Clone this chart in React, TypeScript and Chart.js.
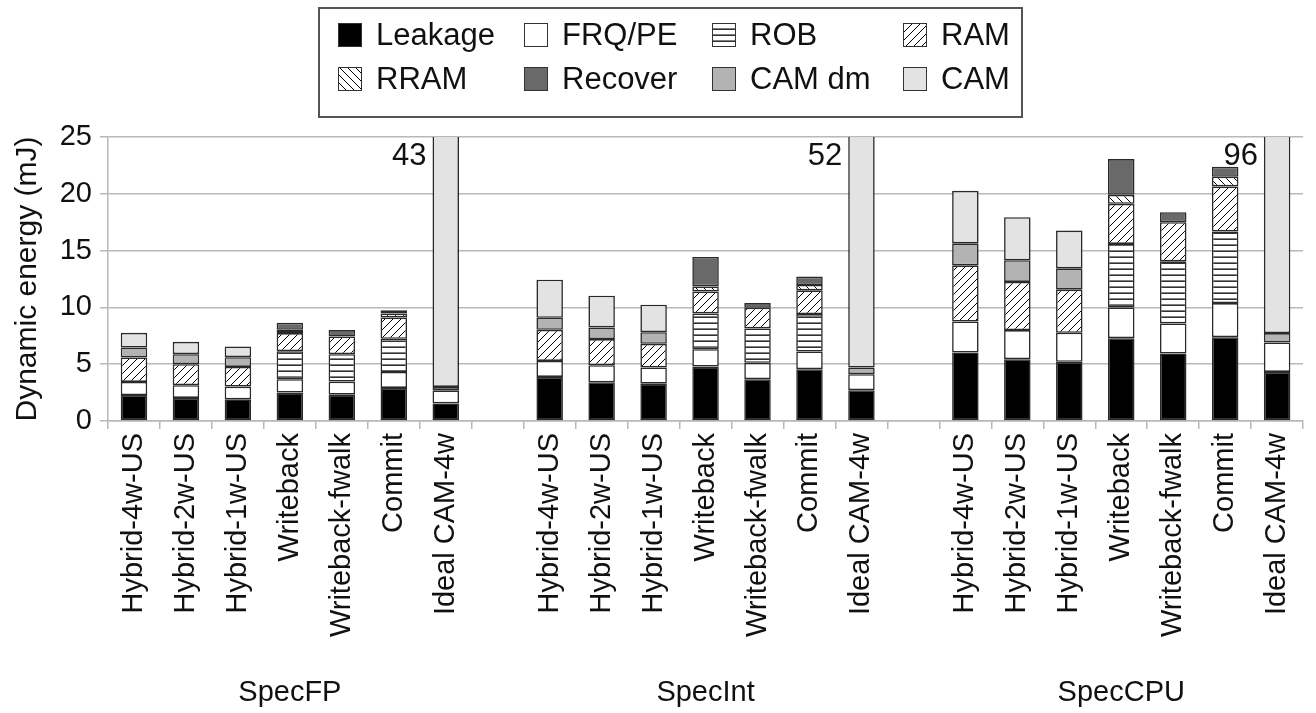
import React, { useEffect, useRef } from 'react';
import { Chart, registerables } from 'chart.js';

Chart.register(...registerables);

// Benchmark suites and the processor configurations evaluated in each
const GROUPS = ['SpecFP', 'SpecInt', 'SpecCPU'];
const CONFIGS = ['Hybrid-4w-US', 'Hybrid-2w-US', 'Hybrid-1w-US', 'Writeback', 'Writeback-fwalk', 'Commit', 'Ideal CAM-4w'];

// Dynamic energy components (mJ), 7 configs per suite: SpecFP, SpecInt, SpecCPU
const leakage = [2.29, 2.03, 1.91, 2.5, 2.32, 2.91, 1.55, 3.88, 3.41, 3.29, 4.79, 3.68, 4.56, 2.71, 6.03, 5.44, 5.21, 7.29, 5.94, 7.38, 4.32];
const frqPe = [1.15, 1.12, 1.12, 1.18, 1.15, 1.41, 1.15, 1.41, 1.5, 1.42, 1.53, 1.44, 1.56, 1.41, 2.73, 2.56, 2.56, 2.71, 2.65, 3.0, 2.59];
const rob = [0, 0, 0, 2.47, 2.41, 2.92, 0, 0, 0, 0, 3.15, 3.03, 3.29, 0, 0, 0, 0, 5.59, 5.47, 6.3, 0];
const ram = [2.15, 1.85, 1.73, 1.59, 1.56, 1.88, 0, 2.74, 2.3, 2.08, 1.94, 1.82, 2.09, 0, 4.94, 4.24, 3.79, 3.53, 3.44, 3.97, 0];
const rram = [0, 0, 0, 0.29, 0, 0.35, 0, 0, 0, 0, 0.44, 0, 0.47, 0, 0, 0, 0, 0.79, 0, 0.85, 0];
const recover = [0, 0, 0, 0.62, 0.56, 0.29, 0, 0, 0, 0, 2.59, 0.41, 0.74, 0, 0, 0, 0, 3.15, 0.88, 0.88, 0];
const camDm = [0.88, 0.88, 0.86, 0, 0, 0, 0.3, 1.06, 1.03, 1.03, 0, 0, 0, 0.59, 1.94, 1.91, 1.88, 0, 0, 0, 0.83];
const cam = [1.29, 1.09, 0.94, 0, 0, 0, 40.0, 3.35, 2.79, 2.42, 0, 0, 0, 47.29, 4.62, 3.79, 3.32, 0, 0, 0, 88.26];

const Y_TICKS = [0, 5, 10, 15, 20, 25];
const Y_MAX = 25;

const FONT = '"Liberation Sans", Arial, sans-serif';
const GRID = '#b8b8b8';
const INK = '#111111';

// Category labels with an empty slot between suites
const labels: string[] = [];
GROUPS.forEach((_, g) => {
  CONFIGS.forEach((c) => labels.push(c));
  if (g < GROUPS.length - 1) labels.push('');
});

// Spread 21 values over the 23 slots, leaving the separator slots and zero segments empty
function withGaps(values: number[]): (number | null)[] {
  const out: (number | null)[] = [];
  values.forEach((v, i) => {
    out.push(v === 0 ? null : v);
    if (i % CONFIGS.length === CONFIGS.length - 1 && i < values.length - 1) out.push(null);
  });
  return out;
}

function makePattern(kind: 'horiz' | 'fwd' | 'back'): CanvasPattern {
  const c = document.createElement('canvas');
  const size = kind === 'horiz' ? 6 : 8;
  c.width = size;
  c.height = size;
  const ctx = c.getContext('2d')!;
  ctx.fillStyle = '#ffffff';
  ctx.fillRect(0, 0, size, size);
  ctx.strokeStyle = '#000000';
  ctx.fillStyle = '#000000';
  if (kind === 'horiz') {
    ctx.fillRect(0, 4.5, size, 1.3);
  } else {
    ctx.lineWidth = 1;
    ctx.beginPath();
    if (kind === 'fwd') {
      ctx.moveTo(0, size); ctx.lineTo(size, 0);
      ctx.moveTo(-1, 1); ctx.lineTo(1, -1);
      ctx.moveTo(size - 1, size + 1); ctx.lineTo(size + 1, size - 1);
    } else {
      ctx.moveTo(0, 0); ctx.lineTo(size, size);
      ctx.moveTo(-1, size - 1); ctx.lineTo(1, size + 1);
      ctx.moveTo(size - 1, -1); ctx.lineTo(size + 1, 1);
    }
    ctx.stroke();
  }
  return ctx.createPattern(c, 'repeat')!;
}

export default function App() {
  const canvasRef = useRef<HTMLCanvasElement>(null);

  useEffect(() => {
    document.body.style.margin = '0';
    const canvas = canvasRef.current;
    if (!canvas) return;

    const series = [
      { label: 'Leakage', data: leakage, fill: '#000000' as string | CanvasPattern },
      { label: 'FRQ/PE', data: frqPe, fill: '#ffffff' },
      { label: 'ROB', data: rob, fill: makePattern('horiz') },
      { label: 'RAM', data: ram, fill: makePattern('fwd') },
      { label: 'RRAM', data: rram, fill: makePattern('back') },
      { label: 'Recover', data: recover, fill: '#696969' },
      { label: 'CAM dm', data: camDm, fill: '#b3b3b3' },
      { label: 'CAM', data: cam, fill: '#e3e3e3' },
    ];

    const datasets = series.map((s) => ({
      label: s.label,
      data: withGaps(s.data),
      backgroundColor: s.fill,
      borderColor: '#2a2a2a',
      borderWidth: 1.6,
      borderSkipped: false as const,
      categoryPercentage: 1,
      barPercentage: 0.51,
      stack: 'energy',
    }));

    const decorations = {
      id: 'decorations',
      afterDraw(chart: Chart) {
        const { ctx, chartArea } = chart;
        const xScale = chart.scales.x;
        ctx.save();

        // Legend box
        ctx.strokeStyle = '#555555';
        ctx.lineWidth = 2;
        ctx.strokeRect(319, 8, 703, 109);
        const cols = [338, 524, 712, 903];
        const rows = [23, 67];
        ctx.font = `31px ${FONT}`;
        ctx.textBaseline = 'middle';
        ctx.textAlign = 'left';
        series.forEach((s, i) => {
          const x = cols[i % 4];
          const y = rows[Math.floor(i / 4)];
          ctx.fillStyle = s.fill;
          ctx.fillRect(x, y, 24, 24);
          ctx.strokeStyle = '#333333';
          ctx.lineWidth = 1;
          ctx.strokeRect(x + 0.5, y + 0.5, 23, 23);
          ctx.fillStyle = INK;
          ctx.fillText(s.label, x + 38, y + 13);
        });

        // Totals for bars that run past the top of the axis
        const meta = chart.getDatasetMeta(0);
        ctx.font = `31px ${FONT}`;
        ctx.textAlign = 'right';
        ctx.fillStyle = INK;
        labels.forEach((_, i) => {
          let total = 0;
          chart.data.datasets.forEach((d) => {
            const v = d.data[i] as number | null;
            if (v) total += v;
          });
          if (total > Y_MAX) {
            const bar = meta.data[i] as any;
            const left = bar.x - bar.width / 2;
            ctx.fillText(String(Math.round(total)), left - 6, chartArea.top + 19);
          }
        });

        // Suite names under each block of configurations
        ctx.textAlign = 'center';
        ctx.font = `29px ${FONT}`;
        GROUPS.forEach((g, gi) => {
          const mid = gi * (CONFIGS.length + 1) + 3;
          ctx.fillText(g, xScale.getPixelForValue(mid), 693);
        });

        // Vertical axis title
        ctx.translate(28, (chartArea.top + chartArea.bottom) / 2);
        ctx.rotate(-Math.PI / 2);
        ctx.font = `30px ${FONT}`;
        ctx.fillText('Dynamic energy (mJ)', 0, 0);
        ctx.restore();
      },
    };

    const chart = new Chart(canvas, {
      type: 'bar',
      data: { labels, datasets },
      options: {
        responsive: false,
        animation: false,
        layout: { padding: { top: 137, right: 3, left: 0, bottom: 0 } },
        plugins: { legend: { display: false }, tooltip: { enabled: false } },
        scales: {
          x: {
            stacked: true,
            offset: true,
            grid: {
              offset: true,
              drawOnChartArea: false,
              drawTicks: true,
              tickLength: 8,
              color: GRID,
              lineWidth: 1.5,
            },
            border: { color: GRID, width: 1.5 },
            ticks: {
              autoSkip: false,
              minRotation: 90,
              maxRotation: 90,
              padding: 4,
              color: INK,
              font: { family: FONT, size: 29 },
            },
            afterFit(scale: any) {
              scale.height = 292;
            },
          },
          y: {
            stacked: true,
            min: 0,
            max: Y_MAX,
            afterBuildTicks(scale: any) {
              scale.ticks = Y_TICKS.map((v) => ({ value: v }));
            },
            grid: { color: GRID, lineWidth: 1.5, tickLength: 8 },
            border: { color: GRID, width: 1.5 },
            ticks: {
              padding: 8,
              color: INK,
              font: { family: FONT, size: 29 },
            },
            afterFit(scale: any) {
              scale.width = 108;
            },
          },
        },
      },
      plugins: [decorations],
    });

    return () => chart.destroy();
  }, []);

  return (
    <div style={{ width: 1316, height: 713, background: '#ffffff' }}>
      <canvas ref={canvasRef} width={1316} height={713} />
    </div>
  );
}
